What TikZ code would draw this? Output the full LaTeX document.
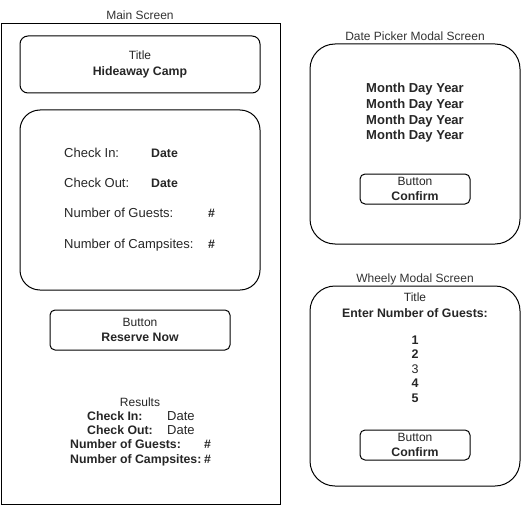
\documentclass[tikz,border=0pt]{standalone}
\usepackage{fontspec}
\setmainfont{Liberation Sans}
\newcommand{\bt}[1]{{\fontsize{12.3}{15.6}\selectfont\bfseries #1}}

\tikzset{
  screen/.style={draw, line width=1pt},
  panel/.style={draw, line width=1pt, rounded corners=#1},
  txt/.style={font=\fontsize{12}{15.6}\selectfont, inner sep=0pt, text=black!85, align=center},
  row/.style={txt, font=\fontsize{13}{15.6}\selectfont, anchor=west, text height=9.3, text depth=0pt},
  heading/.style={txt, text=black!80}
}

\begin{document}
\begin{tikzpicture}[x=1pt, y=-1pt]
    \useasboundingbox (0,0) rectangle (521,505);

    % Main screen
    \node[heading] (mainlbl) at (140,15) {Main Screen};
    \node[screen, minimum width=279, minimum height=480] (main) at (140.5,264) {};
    \node[panel=8, txt, minimum width=240, minimum height=57] (title) at (140,64.5) {Title\\\bt{Hideaway Camp}};
    \node[panel=20, minimum width=240, minimum height=180] (form) at (140,200) {};

    % Form rows
    \node[row] (inlbl) at (64,153) {Check In:};
    \node[row] (inval) at (151,153) {\bt{Date}};
    \node[row] (outlbl) at (64,183) {Check Out:};
    \node[row] (outval) at (151,183) {\bt{Date}};
    \node[row] (guestlbl) at (64,213) {Number of Guests:};
    \node[row] (guestval) at (208,213) {\bt{\#}};
    \node[row] (sitelbl) at (64,244) {Number of Campsites:};
    \node[row] (siteval) at (208,244) {\bt{\#}};

    \node[panel=5, txt, minimum width=180, minimum height=40] (reserve) at (140,330) {Button\\\bt{Reserve Now}};

    % Results
    \node[txt] (results) at (140,402) {Results};
    \node[row] (rinlbl) at (87,416) {\bt{Check In:}};
    \node[row] (rinval) at (167,416) {Date};
    \node[row] (routlbl) at (87,430) {\bt{Check Out:}};
    \node[row] (routval) at (167,430) {Date};
    \node[row] (rguestlbl) at (70,444) {\bt{Number of Guests:}};
    \node[row] (rguestval) at (204,444) {\bt{\#}};
    \node[row] (rsitelbl) at (70,459) {\bt{Number of Campsites:}};
    \node[row] (rsiteval) at (204,459) {\bt{\#}};

    % Date picker modal
    \node[heading] (datelbl) at (415,36) {Date Picker Modal Screen};
    \node[panel=25, minimum width=210, minimum height=200] (datemodal) at (415,144) {};
    \node[txt, font=\fontsize{13}{15.6}\selectfont] (dates) at (415,113) {\textbf{Month Day Year}\\\textbf{Month Day Year}\\\textbf{Month Day Year}\\\textbf{Month Day Year}};
    \node[panel=5, txt, minimum width=110, minimum height=30] (dateconfirm) at (415,189) {Button\\\bt{Confirm}};

    % Wheely modal
    \node[heading] (wheelylbl) at (415,279) {Wheely Modal Screen};
    \node[panel=25, minimum width=210, minimum height=200] (wheelymodal) at (415,386) {};
    \node[txt] (wheelytitle) at (415,305) {Title\\\bt{Enter Number of Guests:}};
    \node[txt, font=\fontsize{12.5}{14.5}\selectfont] (numbers) at (415,369) {\textbf{1}\\\textbf{2}\\3\\\textbf{4}\\\textbf{5}};
    \node[panel=5, txt, minimum width=110, minimum height=30] (wheelyconfirm) at (415,445) {Button\\\bt{Confirm}};
\end{tikzpicture}
\end{document}
